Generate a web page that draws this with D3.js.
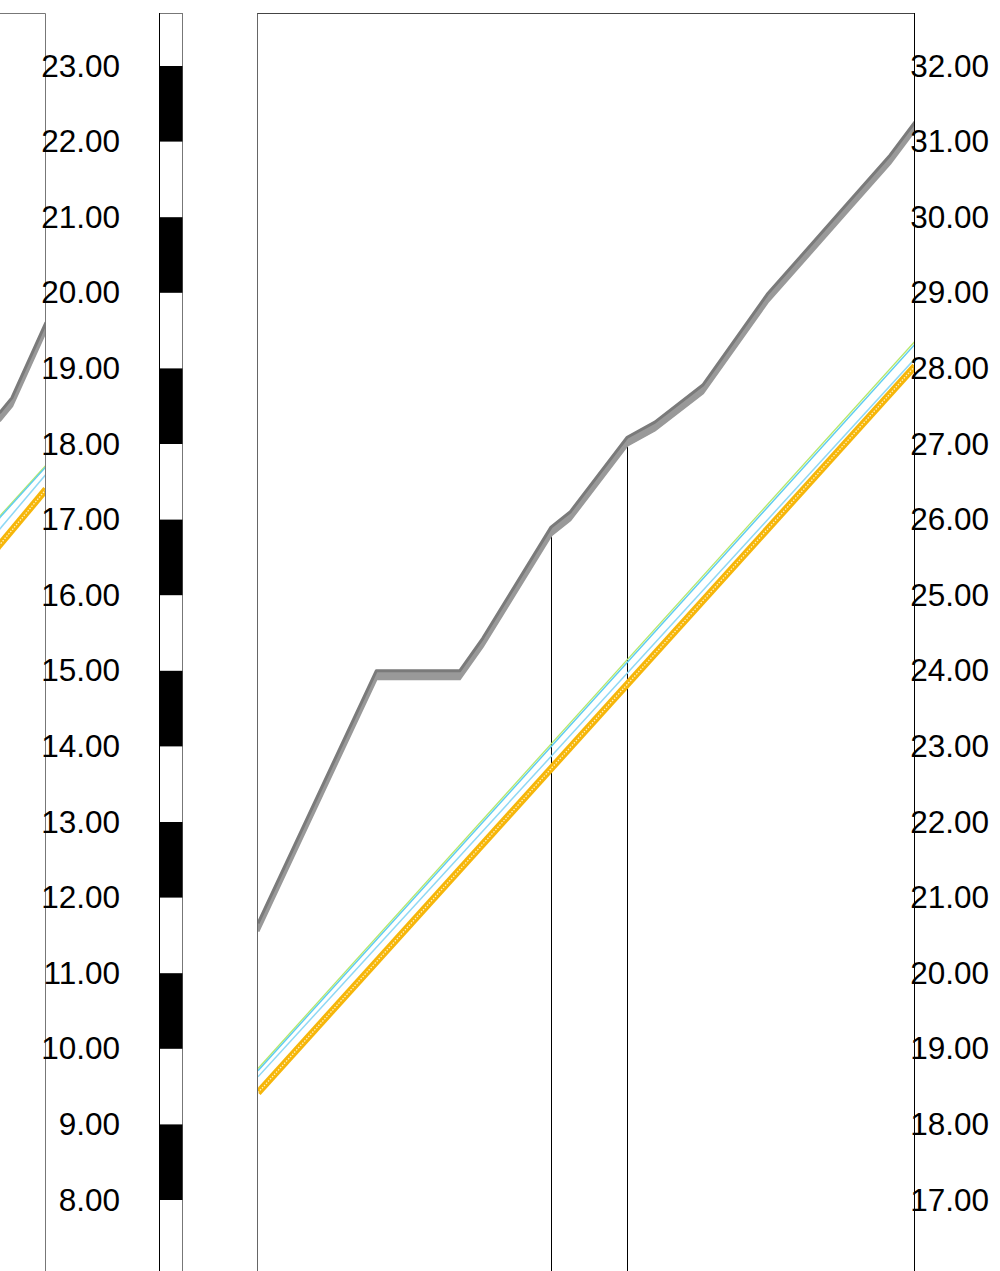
<!DOCTYPE html>
<html>
<head>
<meta charset="utf-8">
<script src="https://cdn.jsdelivr.net/npm/d3@7"></script>
<style>
  html, body { margin: 0; padding: 0; background: #fff; }
  svg { display: block; }
  .axis text { font-family: "Liberation Sans", Arial, sans-serif; font-size: 31.5px; fill: #000; }
</style>
</head>
<body>
<div id="chart"></div>
<script>
// ---- data ----
// main track, x in 0..100 along the track
var mainGreyX = [0, 18, 30.7, 34.2, 44.6, 47.5, 56.2, 60.4, 67.7, 77.5, 89.8, 96.2, 100];
var mainGreyY = [20.66, 24.0, 24.0, 24.43, 25.9, 26.1, 27.09, 27.29, 27.78, 28.98, 30.19, 30.82, 31.26];
var mainLineX = [0, 100];
var mainGreen = [18.74, 28.36];
var mainCyanA = [18.71, 28.32];
var mainCyanB = [18.63, 28.13];
var mainYellow = [18.42, 28.03];
var markerX = [44.6, 56.2];

// left (cut off) track
var leftGreyX = [88, 93, 94.8, 100];
var leftGreyY = [18.2, 18.42, 18.61, 19.61];
var leftLineX = [0, 100];
var leftGreen = [8.15, 17.72];
var leftCyanA = [8.12, 17.7];
var leftCyanB = [7.3, 17.6];
var leftYellow = [7.0, 17.4];

// depth bar blocks (black)
var barBlocks = [[8, 9], [10, 11], [12, 13], [14, 15], [16, 17], [18, 19], [20, 21], [22, 23]];
var leftTicks = d3.range(8, 24);
var rightTicks = d3.range(17, 33);

var width = 1000, height = 1271, plotTop = 13;

var svg = d3.select('#chart').append('svg')
    .attr('width', width)
    .attr('height', height);

var yLeft = d3.scaleLinear().domain([8, 23]).range([1200, 66]);
var yMain = d3.scaleLinear().domain([17, 32]).range([1200, 66]);
var xMain = d3.scaleLinear().domain([0, 100]).range([258, 915]);
var xLeft = d3.scaleLinear().domain([0, 100]).range([-611, 46]);

var defs = svg.append('defs');
defs.append('clipPath').attr('id', 'clipLeft')
  .append('rect').attr('x', -700).attr('y', plotTop).attr('width', 746).attr('height', height);
defs.append('clipPath').attr('id', 'clipMain')
  .append('rect').attr('x', 258).attr('y', plotTop).attr('width', 657).attr('height', height);

function zip(xs, ys) { return xs.map(function(x, i) { return [x, ys[i]]; }); }

// draws one track's curves
function drawTrack(g, x, y, greyX, greyY, lineX, green, cyanA, cyanB, yellow) {
  var line = d3.line().x(function(d) { return x(d[0]); }).y(function(d) { return y(d[1]); });

  // grey band: top edge is the value, band hangs ~9px below
  var band = d3.area()
    .x(function(d) { return x(d[0]); })
    .y1(function(d) { return y(d[1]); })
    .y0(function(d) { return y(d[1]) + 9; });
  var gd = zip(greyX, greyY);
  g.append('path').attr('d', band(gd)).attr('fill', '#999');
  g.append('path').attr('d', line(gd)).attr('transform', 'translate(0,8)')
    .attr('fill', 'none').attr('stroke', '#999').attr('stroke-width', 3);
  g.append('path').attr('d', line(gd))
    .attr('fill', 'none').attr('stroke', '#7a7a7a').attr('stroke-width', 3).attr('stroke-linejoin', 'round');

  // yellow thick line with white dotted centre
  var yd = zip(lineX, yellow);
  g.append('path').attr('d', line(yd))
    .attr('fill', 'none').attr('stroke', '#f6b60a').attr('stroke-width', 7);
  g.append('path').attr('d', line(yd))
    .attr('fill', 'none').attr('stroke', '#fff2c0').attr('stroke-width', 1.3)
    .attr('stroke-dasharray', '1.5,1.5');

  g.append('path').attr('d', line(zip(lineX, cyanB)))
    .attr('fill', 'none').attr('stroke', '#8fd8f5').attr('stroke-width', 1.5);
  g.append('path').attr('d', line(zip(lineX, green)))
    .attr('fill', 'none').attr('stroke', '#b6e86a').attr('stroke-width', 1.3);
  g.append('path').attr('d', line(zip(lineX, cyanA)))
    .attr('fill', 'none').attr('stroke', '#5fcdf0').attr('stroke-width', 1.5);
}

// ---- left track (cut off at the page edge) ----
var gLeft = svg.append('g').attr('clip-path', 'url(#clipLeft)');
drawTrack(gLeft, xLeft, yLeft, leftGreyX, leftGreyY, leftLineX, leftGreen, leftCyanA, leftCyanB, leftYellow);
svg.append('path')
  .attr('d', 'M0,' + (plotTop + 0.5) + 'H45.5V' + height)
  .attr('fill', 'none').attr('stroke', '#777').attr('stroke-width', 1);

// left scale labels
svg.append('g')
  .attr('class', 'axis')
  .attr('transform', 'translate(120,0)')
  .call(d3.axisLeft(yLeft).tickValues(leftTicks).tickSize(0).tickPadding(0).tickFormat(d3.format('.2f')))
  .call(function(g) { g.select('.domain').remove(); });

// ---- depth bar ----
var gBar = svg.append('g');
gBar.append('rect')
  .attr('x', 159.5).attr('y', plotTop + 0.5).attr('width', 23).attr('height', height)
  .attr('fill', '#fff').attr('stroke', '#777');
gBar.selectAll('rect.blk').data(barBlocks).enter().append('rect')
  .attr('class', 'blk')
  .attr('x', 159.5).attr('width', 23)
  .attr('y', function(d) { return yLeft(d[1]); })
  .attr('height', function(d) { return yLeft(d[0]) - yLeft(d[1]); })
  .attr('fill', '#000');
gBar.append('line').attr('x1', 159.5).attr('x2', 159.5).attr('y1', plotTop).attr('y2', height)
  .attr('stroke', '#000');

// ---- main track ----
var gMain = svg.append('g').attr('clip-path', 'url(#clipMain)');
// marker lines from the grey curve down
var greyAt = function(xv) {
  var i = d3.bisectLeft(mainGreyX, xv);
  if (mainGreyX[i] === xv) return mainGreyY[i];
  var t = (xv - mainGreyX[i - 1]) / (mainGreyX[i] - mainGreyX[i - 1]);
  return mainGreyY[i - 1] + t * (mainGreyY[i] - mainGreyY[i - 1]);
};
gMain.selectAll('line.marker').data(markerX).enter().append('line')
  .attr('class', 'marker')
  .attr('x1', function(d) { return Math.round(xMain(d)) + 0.5; })
  .attr('x2', function(d) { return Math.round(xMain(d)) + 0.5; })
  .attr('y1', function(d) { return yMain(greyAt(d)) + 4; })
  .attr('y2', height)
  .attr('stroke', '#000').attr('stroke-width', 1);
drawTrack(gMain, xMain, yMain, mainGreyX, mainGreyY, mainLineX, mainGreen, mainCyanA, mainCyanB, mainYellow);

svg.append('line').attr('x1', 257.5).attr('x2', 257.5).attr('y1', plotTop).attr('y2', height)
  .attr('stroke', '#666');
svg.append('line').attr('x1', 257.5).attr('x2', 915).attr('y1', plotTop + 0.5).attr('y2', plotTop + 0.5)
  .attr('stroke', '#444');
svg.append('line').attr('x1', 914.5).attr('x2', 914.5).attr('y1', plotTop).attr('y2', height)
  .attr('stroke', '#000');

// right scale labels
svg.append('g')
  .attr('class', 'axis')
  .attr('transform', 'translate(989,0)')
  .call(d3.axisLeft(yMain).tickValues(rightTicks).tickSize(0).tickPadding(0).tickFormat(d3.format('.2f')))
  .call(function(g) { g.select('.domain').remove(); });
</script>
</body>
</html>
